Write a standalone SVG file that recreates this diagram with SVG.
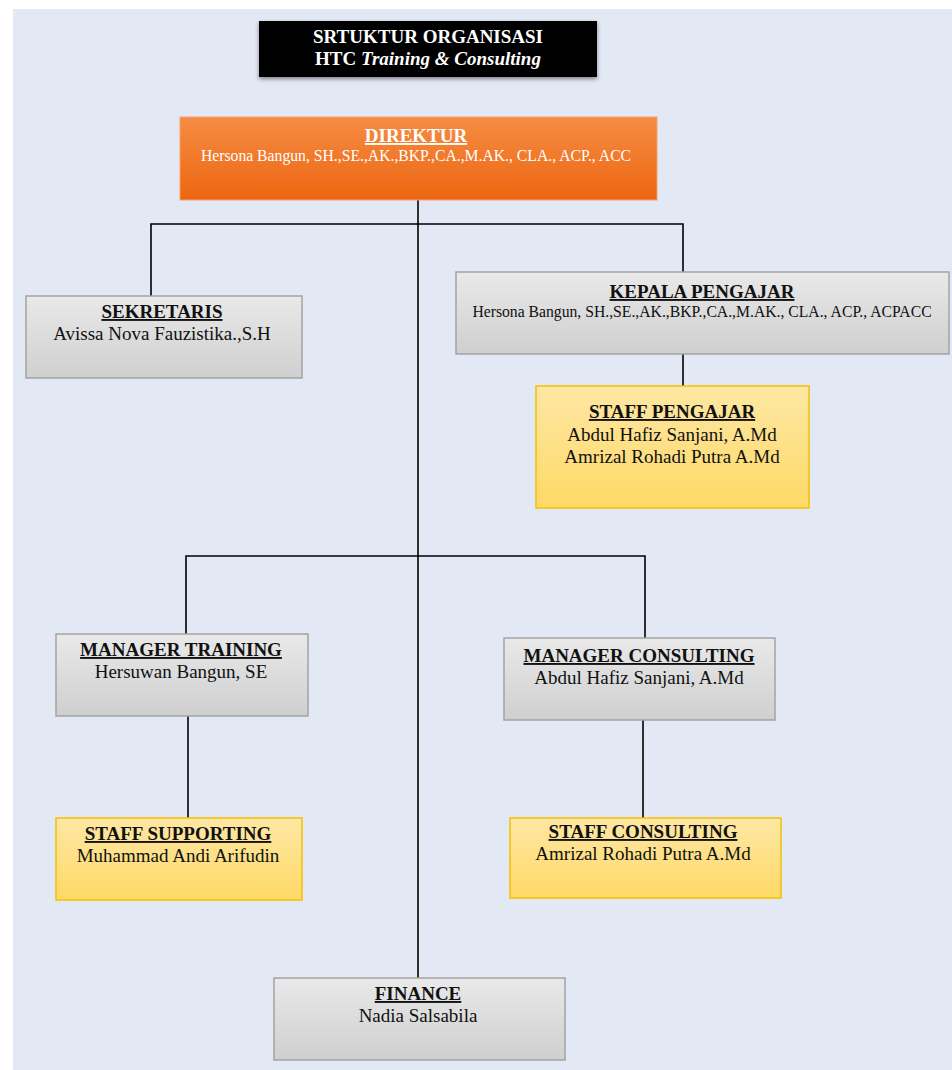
<svg xmlns="http://www.w3.org/2000/svg" width="952" height="1070" viewBox="0 0 952 1070">
<defs>
<linearGradient id="gOrange" x1="0" y1="0" x2="0" y2="1"><stop offset="0" stop-color="#f68c44"/><stop offset="1" stop-color="#ec6610"/></linearGradient>
<linearGradient id="gGray" x1="0" y1="0" x2="0" y2="1"><stop offset="0" stop-color="#e9e9e9"/><stop offset="1" stop-color="#cfcfcf"/></linearGradient>
<linearGradient id="gYellow" x1="0" y1="0" x2="0" y2="1"><stop offset="0" stop-color="#fde7a4"/><stop offset="1" stop-color="#ffd966"/></linearGradient>
<filter id="shadow" x="-5%" y="-20%" width="110%" height="150%"><feDropShadow dx="0" dy="2" stdDeviation="2" flood-color="#000" flood-opacity="0.45"/></filter>
</defs>
<style>
text{font-family:"Liberation Serif","Times New Roman",serif;text-anchor:middle}
.t{font-weight:bold;font-size:19px;text-decoration:underline}
.n{font-size:19px}
.s{font-size:15.7px}
.w{fill:#fff}
.k{fill:#111}
.gray{fill:url(#gGray);stroke:#a3a3a3;stroke-width:1.5}
.yel{fill:url(#gYellow);stroke:#f5c000;stroke-width:1.5}
.conn{stroke:#000;stroke-width:1.6;fill:none}
</style>
<rect x="0" y="0" width="952" height="1070" fill="#ffffff"/>
<rect x="13" y="9" width="939" height="1061" fill="#e2e8f4"/>
<g id="connectors">
<path class="conn" d="M418 200V978"/>
<path class="conn" d="M151 296V224H683V272"/>
<path class="conn" d="M683 354V386"/>
<path class="conn" d="M186 634V556H645V638"/>
<path class="conn" d="M188 716V818"/>
<path class="conn" d="M643 720V818"/>
</g>
<g id="title">
<rect x="259" y="21" width="338" height="56" fill="#000" filter="url(#shadow)"/>
<text x="428" y="43" class="w" font-weight="bold" font-size="19">SRTUKTUR ORGANISASI</text>
<text x="428" y="65" class="w" font-weight="bold" font-size="19">HTC <tspan font-style="italic">Training &amp; Consulting</tspan></text>
</g>
<g id="direktur">
<rect x="180" y="117" width="477" height="83" fill="url(#gOrange)" stroke="#f7a070" stroke-width="1"/>
<text x="416" y="142" class="t w">DIREKTUR</text>
<text x="416" y="161" class="s w">Hersona Bangun, SH.,SE.,AK.,BKP.,CA.,M.AK., CLA., ACP., ACC</text>
</g>
<g id="sekretaris">
<rect x="26" y="296" width="276" height="82" class="gray"/>
<text x="162" y="318" class="t k">SEKRETARIS</text>
<text x="162" y="340" class="n k">Avissa Nova Fauzistika.,S.H</text>
</g>
<g id="kepala-pengajar">
<rect x="456" y="272" width="493" height="82" class="gray"/>
<text x="702" y="298" class="t k">KEPALA PENGAJAR</text>
<text x="702" y="317" class="s k">Hersona Bangun, SH.,SE.,AK.,BKP.,CA.,M.AK., CLA., ACP., ACPACC</text>
</g>
<g id="staff-pengajar">
<rect x="536" y="386" width="273" height="122" class="yel"/>
<text x="672" y="418" class="t k">STAFF PENGAJAR</text>
<text x="672" y="441" class="n k">Abdul Hafiz Sanjani, A.Md</text>
<text x="672" y="463" class="n k">Amrizal Rohadi Putra A.Md</text>
</g>
<g id="manager-training">
<rect x="56" y="634" width="252" height="82" class="gray"/>
<text x="181" y="656" class="t k">MANAGER TRAINING</text>
<text x="181" y="678" class="n k">Hersuwan Bangun, SE</text>
</g>
<g id="manager-consulting">
<rect x="504" y="638" width="271" height="82" class="gray"/>
<text x="639" y="662" class="t k">MANAGER CONSULTING</text>
<text x="639" y="684" class="n k">Abdul Hafiz Sanjani, A.Md</text>
</g>
<g id="staff-supporting">
<rect x="56" y="818" width="246" height="82" class="yel"/>
<text x="178" y="840" class="t k">STAFF SUPPORTING</text>
<text x="178" y="862" class="n k">Muhammad Andi Arifudin</text>
</g>
<g id="staff-consulting">
<rect x="510" y="818" width="271" height="80" class="yel"/>
<text x="643" y="838" class="t k">STAFF CONSULTING</text>
<text x="643" y="860" class="n k">Amrizal Rohadi Putra A.Md</text>
</g>
<g id="finance">
<rect x="274" y="978" width="291" height="82" class="gray"/>
<text x="418" y="1000" class="t k">FINANCE</text>
<text x="418" y="1022" class="n k">Nadia Salsabila</text>
</g>
</svg>
